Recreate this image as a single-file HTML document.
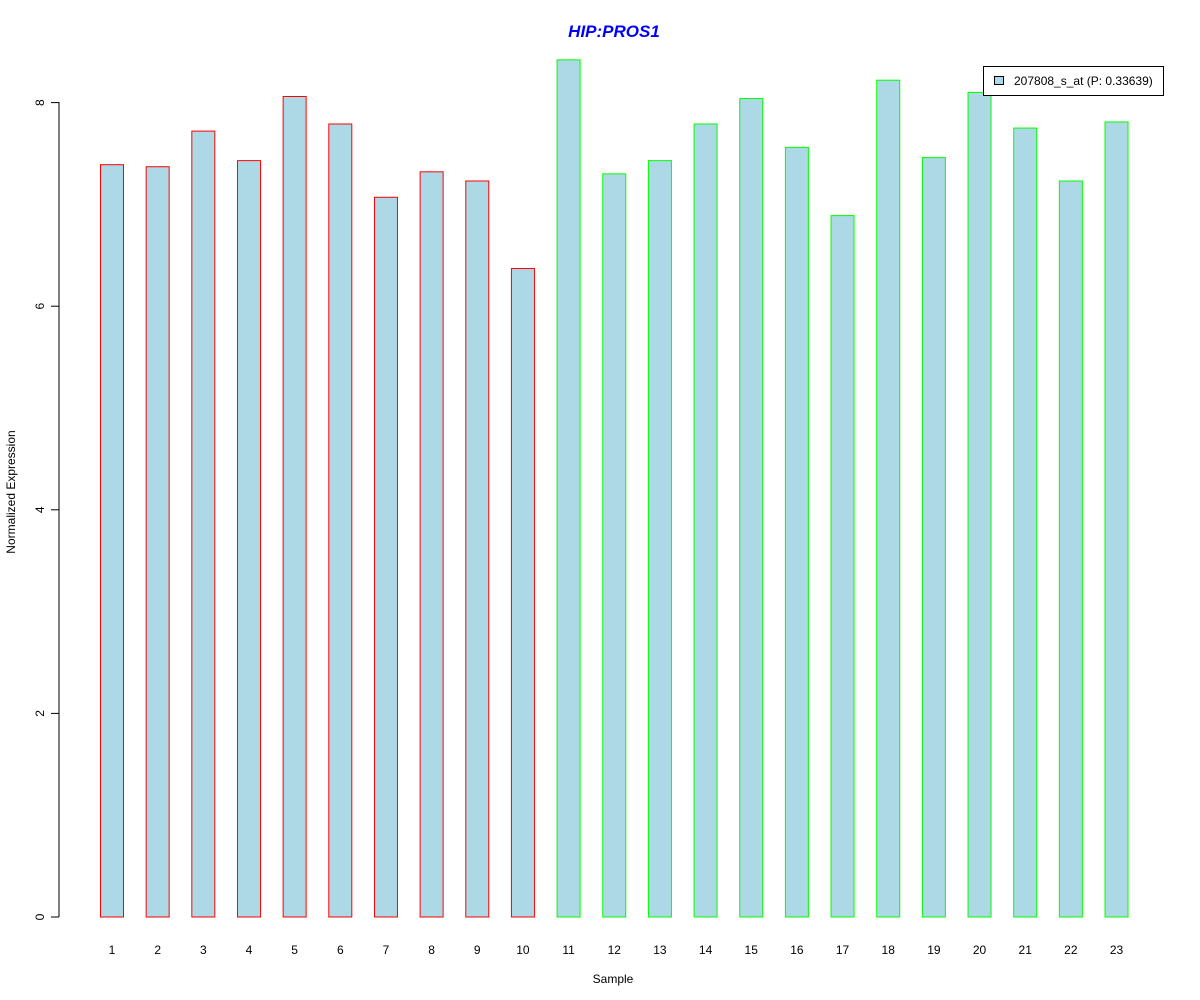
<!DOCTYPE html>
<html><head><meta charset="utf-8"><style>
body{margin:0;background:#fff}
svg{display:block;font-family:"Liberation Sans",Arial,sans-serif}
</style></head><body>
<svg id="chart" width="1200" height="1000">
<text x="614" y="37" text-anchor="middle" font-size="17" font-weight="bold" font-style="italic" fill="#0000ff">HIP:PROS1</text>
<line x1="59" y1="917" x2="59" y2="102" stroke="#000"/>
<g id="yticks"></g>
<g id="bars"></g>
<g id="xlabels"></g>
<text x="613" y="983" text-anchor="middle" font-size="12">Sample</text>
<text transform="translate(15,492) rotate(-90)" text-anchor="middle" font-size="12">Normalized Expression</text>
<g>
<rect x="983.5" y="66.5" width="180" height="29" fill="#fff" stroke="#000"/>
<rect x="994.5" y="76.5" width="9" height="8" fill="#add8e6" stroke="#000"/>
<text x="1014" y="85" font-size="12">207808_s_at (P: 0.33639)</text>
</g>
</svg>
<script>
const categories=["1","2","3","4","5","6","7","8","9","10","11","12","13","14","15","16","17","18","19","20","21","22","23"];
const values=[7.39,7.37,7.72,7.43,8.06,7.79,7.07,7.32,7.23,6.37,8.42,7.30,7.43,7.79,8.04,7.56,6.89,8.22,7.46,8.10,7.75,7.23,7.81];
const groups=["a","a","a","a","a","a","a","a","a","a","b","b","b","b","b","b","b","b","b","b","b","b","b"];
const yTicks=[0,2,4,6,8];
const NS="http://www.w3.org/2000/svg";
const y=v=>917-v*101.8;
const x=i=>112+i*45.66;
const yt=document.getElementById('yticks');
yTicks.forEach(t=>{
 const l=document.createElementNS(NS,'line');
 
 
 l.setAttribute('x1',51);l.setAttribute('x2',59);l.setAttribute('y1',y(t));l.setAttribute('y2',y(t));l.setAttribute('stroke','#000');
 yt.appendChild(l);
 const tx=document.createElementNS(NS,'text');
 
 
 tx.setAttribute('transform',`translate(44,${y(t)}) rotate(-90)`);
 tx.setAttribute('text-anchor','middle');tx.setAttribute('font-size','12');
 tx.textContent=t;yt.appendChild(tx);
});
const bg=document.getElementById('bars'),xl=document.getElementById('xlabels');
values.forEach((v,i)=>{
 const r=document.createElementNS(NS,'rect');
 
 
 r.setAttribute('x',x(i)-11.5);r.setAttribute('width',23);
 r.setAttribute('y',y(v));r.setAttribute('height',917-y(v));
 r.setAttribute('fill','#add8e6');
 r.setAttribute('stroke',groups[i]==='a'?'#ff0000':'#00ff00');
 bg.appendChild(r);
 const t=document.createElementNS(NS,'text');
 
 
 t.setAttribute('x',x(i));t.setAttribute('y',954);t.setAttribute('text-anchor','middle');t.setAttribute('font-size','12');
 t.textContent=categories[i];xl.appendChild(t);
});
</script>
</body></html>
